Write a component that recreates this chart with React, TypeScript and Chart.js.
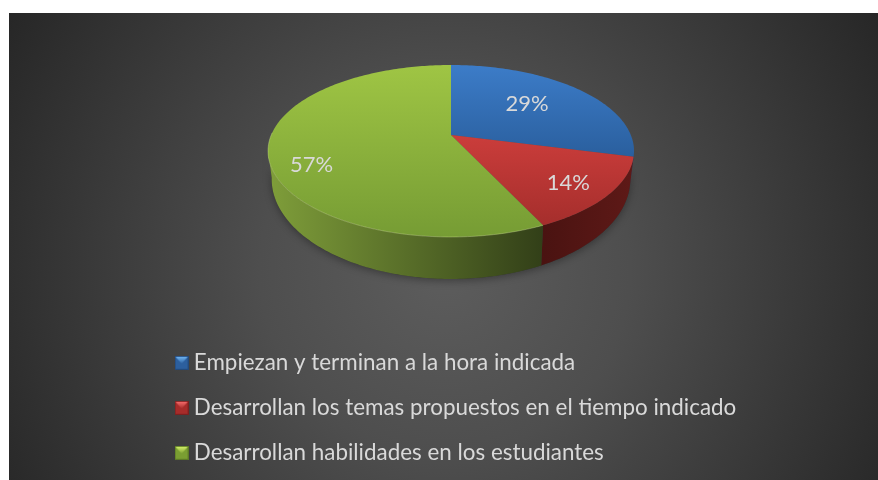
import React, { useEffect, useRef } from "react";
import { Chart, PieController, ArcElement, Legend } from "chart.js";

const categories = [
  "Empiezan y terminan a la hora indicada",
  "Desarrollan los temas propuestos en el tiempo indicado",
  "Desarrollan habilidades en los estudiantes",
];
const shares = [29, 14, 57];
const pctLabels = ["29%", "14%", "57%"];

const baseColors = ["#2f66aa", "#b23331", "#84aa38"];
const topGradients = [
  ["#3c7cc8", "#2a5f9e"],
  ["#cb3d3b", "#a52e2c"],
  ["#9fc544", "#769c34"],
];
const wallGradients = [
  ["#1f4674", "#1f4674"],
  ["#4a1311", "#5e1917"],
  ["#7f9e3a", "#323f18"],
];
const swatchColors = [
  ["#6fb4f2", "#2c5f9e", "#234a7c"],
  ["#f46a6a", "#a72c2a", "#7c2120"],
  ["#d2ee68", "#7a9e32", "#5d7a26"],
];
const labelRadius = [0.57, 0.77, 0.77];
const labelNudgeY = [-4, 3, 16];

const FONT = "Lato, Carlito, sans-serif";
const TEXT = "#d9d9d9";
const G = { cx: 451, apexY: 135, a: 179.8, b: 83, k: -0.186, topCy: 151, botCy: 179, xShrink: 0.98, yStretch: 100 / 86 };
const VIS_FROM = (100 * Math.PI) / 180;
const VIS_TO = (260 * Math.PI) / 180;

function project(theta: number, r = 1) {
  const u = Math.sin(theta) * r;
  const v = -Math.cos(theta) * r;
  const w = 1 + G.k * v;
  return { x: G.cx + (G.a * u) / w, y: G.apexY + (G.b * v) / w };
}
function lower(p: { x: number; y: number }) {
  return { x: G.cx + (p.x - G.cx) * G.xShrink, y: G.botCy + (p.y - G.topCy) * G.yStretch };
}
function sample(t0: number, t1: number) {
  const n = Math.max(2, Math.ceil(((t1 - t0) * 180) / Math.PI));
  const out: number[] = [];
  for (let i = 0; i <= n; i++) out.push(t0 + ((t1 - t0) * i) / n);
  return out;
}
function wallPath(ctx: CanvasRenderingContext2D, t0: number, t1: number) {
  const ts = sample(t0, t1);
  ctx.beginPath();
  ts.forEach((t, i) => {
    const p = project(t);
    if (i === 0) ctx.moveTo(p.x, p.y);
    else ctx.lineTo(p.x, p.y);
  });
  ts.slice().reverse().forEach((t) => {
    const p = lower(project(t));
    ctx.lineTo(p.x, p.y);
  });
  ctx.closePath();
}

class Pie3DController extends PieController {
  static id = "pie3d";
  static defaults = PieController.defaults;
  static overrides = PieController.overrides;
  draw() {
    const ctx: CanvasRenderingContext2D = this.chart.ctx;
    const arcs: any[] = this._cachedMeta.data;
    const spans = arcs.map((a) => [a.startAngle + Math.PI / 2, a.endAngle + Math.PI / 2]);

    ctx.save();
    ctx.shadowColor = "rgba(0,0,0,0.35)";
    ctx.shadowBlur = 8;
    ctx.shadowOffsetY = 2;
    ctx.fillStyle = "#333";
    wallPath(ctx, VIS_FROM, VIS_TO);
    ctx.fill();
    ctx.restore();

    spans.forEach(([s, e], i) => {
      const t0 = Math.max(s, VIS_FROM);
      const t1 = Math.min(e, VIS_TO);
      if (t1 <= t0) return;
      const xs = sample(t0, t1).map((t) => project(t).x);
      const g = ctx.createLinearGradient(Math.min(...xs), 0, Math.max(...xs), 0);
      g.addColorStop(0, wallGradients[i][0]);
      g.addColorStop(1, wallGradients[i][1]);
      ctx.fillStyle = g;
      wallPath(ctx, t0, t1);
      ctx.fill();
    });

    spans.forEach(([s, e], i) => {
      const pts = sample(s, e).map((t) => project(t));
      const ys = pts.map((p) => p.y).concat(G.apexY);
      const g = ctx.createLinearGradient(0, Math.min(...ys), 0, Math.max(...ys));
      g.addColorStop(0, topGradients[i][0]);
      g.addColorStop(1, topGradients[i][1]);
      ctx.fillStyle = g;
      ctx.beginPath();
      ctx.moveTo(G.cx, G.apexY);
      pts.forEach((p) => ctx.lineTo(p.x, p.y));
      ctx.closePath();
      ctx.fill();
    });

    ctx.save();
    ctx.lineWidth = 1;
    ctx.strokeStyle = "rgba(215,235,150,0.35)";
    ctx.beginPath();
    sample(spans[2][0], Math.min(spans[2][1], VIS_TO + 0.2)).forEach((t, i) => {
      const p = project(t);
      if (i === 0) ctx.moveTo(p.x, p.y);
      else ctx.lineTo(p.x, p.y);
    });
    ctx.stroke();
    ctx.restore();
  }
}

function makeSwatch(i: number) {
  const c = document.createElement("canvas");
  c.width = 14;
  c.height = 14;
  const x = c.getContext("2d")!;
  const [light, mid, edge] = swatchColors[i];
  x.fillStyle = edge;
  x.fillRect(0, 0, 14, 14);
  x.fillStyle = mid;
  x.fillRect(1, 1, 12, 12);
  const g = x.createLinearGradient(0, 1, 0, 8);
  g.addColorStop(0, light);
  g.addColorStop(1, mid);
  x.fillStyle = g;
  x.beginPath();
  x.moveTo(1, 1);
  x.lineTo(13, 1);
  x.lineTo(7, 8);
  x.closePath();
  x.fill();
  return c;
}

const backdrop = {
  id: "backdrop",
  beforeDraw(chart: any) {
    const ctx = chart.ctx;
    const g = ctx.createRadialGradient(445, 270, 10, 445, 270, 510);
    g.addColorStop(0, "#5c5c5c");
    g.addColorStop(0.35, "#4e4e4e");
    g.addColorStop(1, "#262626");
    ctx.fillStyle = g;
    ctx.fillRect(9, 13, 869, 467);
  },
};

const legendPlacement = {
  id: "legendPlacement",
  afterLayout(chart: any) {
    chart.legend.left = 158;
    chart.legend.top = 329;
  },
};

const pctText = {
  id: "pctText",
  afterDatasetsDraw(chart: any) {
    const ctx = chart.ctx;
    const arcs = chart.getDatasetMeta(0).data;
    ctx.save();
    ctx.font = `22px ${FONT}`;
    ctx.fillStyle = TEXT;
    ctx.textAlign = "center";
    ctx.textBaseline = "middle";
    arcs.forEach((a: any, i: number) => {
      const mid = (a.startAngle + a.endAngle) / 2 + Math.PI / 2;
      const p = project(mid, labelRadius[i]);
      ctx.fillText(pctLabels[i], p.x, p.y + labelNudgeY[i]);
    });
    ctx.restore();
  },
};

Chart.register(Pie3DController, ArcElement, Legend);

export default function App() {
  const ref = useRef<HTMLCanvasElement>(null);
  useEffect(() => {
    const chart = new Chart(ref.current!, {
      type: "pie3d" as any,
      data: {
        labels: categories,
        datasets: [{ data: shares, backgroundColor: baseColors, clip: false } as any],
      },
      plugins: [backdrop, legendPlacement, pctText],
      options: {
        responsive: false,
        animation: false,
        plugins: {
          tooltip: { enabled: false },
          legend: {
            position: "bottom",
            align: "start",
            labels: {
              usePointStyle: true,
              pointStyleWidth: 2,
              padding: 22.6,
              color: TEXT,
              font: { family: FONT, size: 22.4 },
              generateLabels: () =>
                categories.map((text, i) => ({
                  text,
                  fillStyle: baseColors[i],
                  strokeStyle: baseColors[i],
                  fontColor: TEXT,
                  lineWidth: 0,
                  pointStyle: makeSwatch(i),
                  hidden: false,
                  index: i,
                })),
            },
          },
        },
      } as any,
    });
    return () => chart.destroy();
  }, []);
  return (
    <div style={{ position: "fixed", left: 0, top: 0, width: 878, height: 480 }}>
      <canvas ref={ref} width={878} height={480} style={{ display: "block" }} />
    </div>
  );
}
